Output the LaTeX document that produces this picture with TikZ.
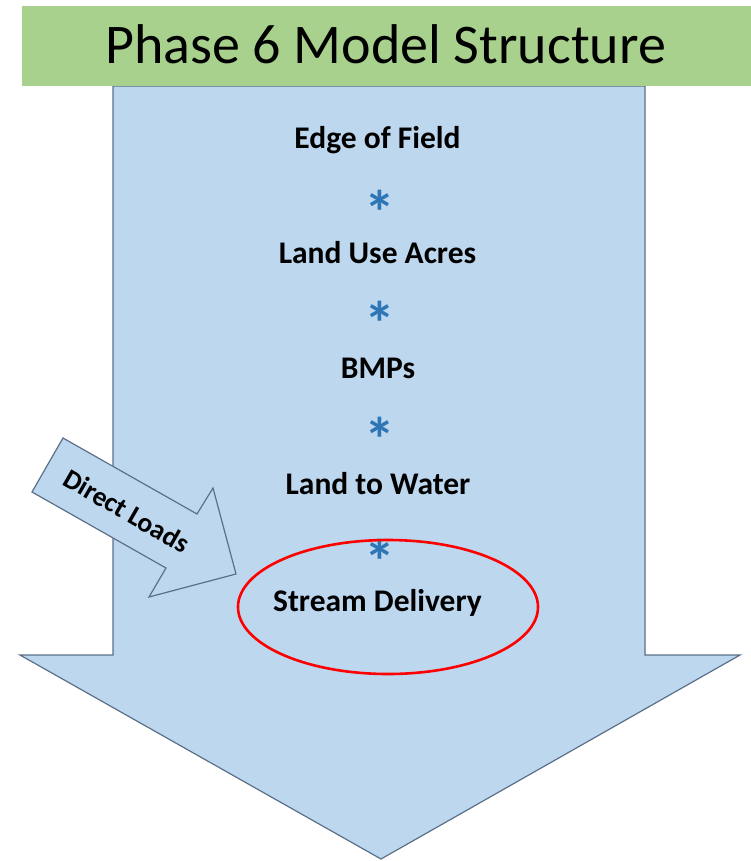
\documentclass[tikz,border=0pt]{standalone}
\usepackage{fontspec}
\setmainfont{Carlito}
\definecolor{arrowfill}{HTML}{BDD7EE}
\definecolor{arrowline}{HTML}{5B7088}
\definecolor{titlegreen}{HTML}{A9D18E}
\definecolor{starblue}{HTML}{2E75B6}
\definecolor{ringred}{HTML}{FF0000}
\tikzset{
  bigarrow/.style={fill=arrowfill, draw=arrowline, line width=1.2pt, line join=miter},
  stage/.style={anchor=base, inner sep=0pt, font=\bfseries\fontsize{31.5}{34}\selectfont},
  star/.style={inner sep=0pt, text=starblue, font=\bfseries\fontsize{62}{66}\selectfont},
}
\begin{document}
\begin{tikzpicture}[x=1pt,y=-1pt]
\useasboundingbox (0,0) rectangle (751,861);
% main down arrow
\draw[bigarrow] (113,86) -- (113,655) -- (20,655) -- (381,859) -- (740,655) -- (645,655) -- (645,86) -- cycle;
% title bar
\fill[titlegreen] (22,6) rectangle (751,86);
\node[anchor=base, inner sep=0pt, font=\fontsize{56}{60}\selectfont] (title) at (385.5,64) {Phase 6 Model Structure};
% stages
\node[stage] (edge) at (377.5,148.3) {Edge of Field};
\node[stage] (landuse) at (377.5,263.3) {Land Use Acres};
\node[stage] (bmps) at (378,378.5) {BMPs};
\node[stage] (l2w) at (378,494) {Land to Water};
\node[stage] (stream) at (377.5,611) {Stream Delivery};
% asterisks
\node[star, anchor=base] (s1) at (380,234.4) {*};
\node[star, anchor=base] (s2) at (380,345.7) {*};
\node[star, anchor=base] (s3) at (380,461.7) {*};
\node[star, anchor=base] (s4) at (380,583.7) {*};
% red ellipse
\draw[ringred, line width=2.6pt] (388,607) ellipse [x radius=150, y radius=67];
% direct loads arrow
\draw[bigarrow] (63,438) -- (197,514) -- (213,488) -- (236,574) -- (149,597) -- (166,568) -- (32,492) -- cycle;
\node[rotate=-30, inner sep=0pt, font=\bfseries\fontsize{27.5}{30}\selectfont] (direct) at (127,511) {Direct Loads};
\end{tikzpicture}
\end{document}
